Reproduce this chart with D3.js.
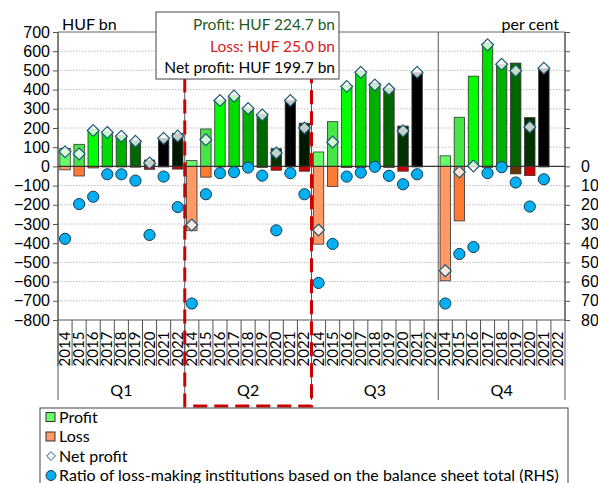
<!DOCTYPE html>
<html>
<head>
<meta charset="utf-8">
<script src="https://cdn.jsdelivr.net/npm/d3@7"></script>
<style>
  body { margin: 0; background: #fff; }
  svg { font-family: Lato, "Open Sans", sans-serif; }
  .grid line { stroke: #bdbdbd; stroke-dasharray: 1.5,1.5; }
  .axis path, .axis line { stroke: #555; }
  .axis text { font-size: 16px; fill: #000; }
</style>
</head>
<body>
<svg width="598" height="483"></svg>
<script>
(function() {

	// data (HUF bn / per cent), ordered Q1..Q4, 2014..2022
	var quarters = ["Q1", "Q2", "Q3", "Q4"]
	var years = ["2014", "2015", "2016", "2017", "2018", "2019", "2020", "2021", "2022"]

	var profit = [
		93, 115, 193, 180, 160, 135, 33, 148, 172,      // Q1
		30, 195, 346, 368, 304, 273, 92, 345, 225,      // Q2
		75, 233, 422, 494, 432, 407, 210, 490, null,    // Q3
		55, 256, 470, 640, 530, 538, 254, 511, null     // Q4
	]
	var loss = [
		-18, -50, -8, -3, -3, -4, -15, -3, -14,
		-335, -56, -3, -2, -3, -5, -20, -3, -25,
		-405, -105, -6, -5, -8, -5, -25, -3, null,
		-596, -284, -3, -5, -3, -39, -48, -3, null
	]
	var netProfit = [
		76, 65, 187, 177, 157, 131, 18, 146, 158,
		-305, 139, 343, 366, 301, 268, 70, 343, 200,
		-331, 127, 416, 490, 424, 402, 185, 490, null,
		-543, -29, 2, 633, 532, 498, 205, 511, null
	]
	var ratio = [
		37.7, 19.6, 15.8, 4.1, 4.1, 7.4, 35.7, 5.3, 21.2,
		71.4, 14.5, 3.5, 3.0, 0.6, 4.8, 33.3, 3.5, 14.5,
		60.7, 40.4, 5.3, 3.2, 0.2, 4.9, 9.3, 4.1, null,
		71.4, 45.6, 42.0, 3.5, 0.4, 8.4, 20.9, 6.7, null
	]
	var leftTicks = [700, 600, 500, 400, 300, 200, 100, 0, -100, -200, -300, -400, -500, -600, -700, -800]
	var rightTicks = [0, 10, 20, 30, 40, 50, 60, 70, 80]
	var legendLabels = ["Profit", "Loss", "Net profit", "Ratio of loss-making institutions based on the balance sheet total (RHS)"]
	var noteLines = ["Profit: HUF 224.7 bn", "Loss: HUF 25.0 bn", "Net profit: HUF 199.7 bn"]

	var profitColors = ["#66ff66", "#47e647", "#00ff00", "#00dd00", "#00b000", "#006600", "#003300", "#000000", "#001a00"]
	var lossColors = ["#ff9966", "#ff7a33", "#ff6a10", "#e05c00", "#b34700", "#663300", "#cc0000", "#800000", "#cc0000"]
	var noteColors = ["#1f5a1f", "#d42020", "#000"]

	var svg = d3.select('svg')
	var plot = { left: 58, right: 565, top: 32, bottom: 320 }

	var rows = []
	quarters.forEach(function(q, qi) {
		years.forEach(function(y, yi) {
			var i = qi * years.length + yi
			rows.push({ key: q + y, q: q, qi: qi, year: y, yi: yi,
				profit: profit[i], loss: loss[i], net: netProfit[i], ratio: ratio[i] })
		})
	})

	var x = d3.scaleBand().domain(rows.map(function(d) { return d.key })).range([plot.left, plot.right])
	var y = d3.scaleLinear().domain([-800, 700]).range([plot.bottom, plot.top])
	var yR = d3.scaleLinear().domain([80, -70]).range([plot.bottom, plot.top])
	var barW = x.step() * 0.74
	function cx(d) { return x(d.key) + x.step() / 2 }

	// gridlines
	svg.append('g').attr('class', 'grid')
		.selectAll('line').data(leftTicks.filter(function(t) { return t !== 0 && t !== 700 && t !== -800 }))
		.enter().append('line')
		.attr('x1', plot.left).attr('x2', plot.right)
		.attr('y1', function(d) { return y(d) }).attr('y2', function(d) { return y(d) })

	// frame + quarter separators
	var qEdges = quarters.map(function(q) { return x(q + years[0]) }).concat([plot.right])
	svg.append('line').attr('x1', plot.left).attr('x2', plot.right).attr('y1', plot.top).attr('y2', plot.top).attr('stroke', '#666')
	svg.selectAll('.qsep').data(qEdges).enter().append('line').attr('class', 'qsep')
		.attr('x1', function(d) { return d }).attr('x2', function(d) { return d })
		.attr('y1', plot.top).attr('y2', 400).attr('stroke', '#555')

	// profit & loss bars
	var valid = rows.filter(function(d) { return d.profit !== null })
	svg.append('g').selectAll('rect').data(valid).enter().append('rect')
		.attr('x', function(d) { return cx(d) - barW / 2 })
		.attr('width', barW)
		.attr('y', function(d) { return y(d.profit) })
		.attr('height', function(d) { return y(0) - y(d.profit) })
		.attr('fill', function(d) { return profitColors[d.yi] })
		.attr('stroke', '#333').attr('stroke-width', 0.8)
	svg.append('g').selectAll('rect').data(valid).enter().append('rect')
		.attr('x', function(d) { return cx(d) - barW / 2 })
		.attr('width', barW)
		.attr('y', y(0))
		.attr('height', function(d) { return y(d.loss) - y(0) })
		.attr('fill', function(d) { return lossColors[d.yi] })
		.attr('stroke', '#333').attr('stroke-width', 0.8)

	// zero line
	svg.append('line').attr('x1', plot.left).attr('x2', plot.right)
		.attr('y1', y(0)).attr('y2', y(0)).attr('stroke', '#333').attr('stroke-width', 1.2)

	// axes
	var axL = d3.axisLeft(y).tickValues(leftTicks).tickSize(5).tickPadding(3)
	svg.append('g').attr('class', 'axis').attr('transform', 'translate(' + plot.left + ',0)').call(axL)
		.select('.domain').remove()
	svg.append('line').attr('x1', plot.left).attr('x2', plot.left).attr('y1', plot.top).attr('y2', plot.bottom).attr('stroke', '#555')

	var rTickVals = d3.range(-70, 81, 10)
	var axR = d3.axisRight(yR).tickValues(rTickVals).tickSize(5).tickPadding(11)
		.tickFormat(function(d) { return rightTicks.indexOf(d) >= 0 ? d : '' })
	svg.append('g').attr('class', 'axis').attr('transform', 'translate(' + plot.right + ',0)').call(axR)
		.select('.domain').remove()
	svg.append('line').attr('x1', plot.right).attr('x2', plot.right).attr('y1', plot.top).attr('y2', plot.bottom).attr('stroke', '#555')

	// bottom axis: year ticks and labels
	svg.append('line').attr('x1', plot.left).attr('x2', plot.right).attr('y1', plot.bottom).attr('y2', plot.bottom).attr('stroke', '#555')
	svg.append('g').selectAll('line').data(rows).enter().append('line')
		.attr('x1', function(d) { return x(d.key) }).attr('x2', function(d) { return x(d.key) })
		.attr('y1', plot.bottom).attr('y2', 366).attr('stroke', '#555')
	svg.append('g').selectAll('text').data(rows).enter().append('text')
		.attr('transform', function(d) { return 'translate(' + (cx(d) + 5) + ',349)rotate(-90)' })
		.attr('text-anchor', 'middle')
		.style('font-size', '15px')
		.text(function(d) { return d.year })
	svg.append('g').selectAll('text').data(quarters).enter().append('text')
		.attr('x', function(d, i) { return (qEdges[i] + qEdges[i + 1]) / 2 })
		.attr('y', 396)
		.attr('text-anchor', 'middle')
		.style('font-size', '16px')
		.text(function(d) { return d })

	// net profit diamonds
	var dia = d3.symbol().type(d3.symbolDiamond2).size(90)
	svg.append('g').selectAll('path').data(valid).enter().append('path')
		.attr('d', dia)
		.attr('transform', function(d) { return 'translate(' + cx(d) + ',' + y(d.net) + ')' })
		.attr('fill', '#fff').attr('fill-opacity', 0.78)
		.attr('stroke', '#1d5c7a').attr('stroke-width', 1.2)

	// ratio dots (RHS)
	svg.append('g').selectAll('circle').data(valid).enter().append('circle')
		.attr('cx', cx).attr('cy', function(d) { return yR(d.ratio) })
		.attr('r', 5.6)
		.attr('fill', '#00b0f0').attr('stroke', '#173a55').attr('stroke-width', 1)

	// unit labels
	svg.append('text').attr('x', 62).attr('y', 29.5).style('font-size', '16px').text('HUF bn')
	svg.append('text').attr('x', 559).attr('y', 29.5).attr('text-anchor', 'end').style('font-size', '16px').text('per cent')

	// highlighted Q2 box
	var q2L = qEdges[1], q2R = qEdges[2]
	svg.append('rect').attr('x', q2L).attr('y', 70).attr('width', q2R - q2L).attr('height', 406 - 70)
		.attr('fill', 'none').attr('stroke', '#cc0000').attr('stroke-width', 3).attr('stroke-dasharray', '14,7')

	// note box
	var note = svg.append('g')
	note.append('rect').attr('x', 156).attr('y', 12).attr('width', 183).attr('height', 67)
		.attr('fill', '#fff').attr('stroke', '#444').attr('stroke-width', 1)
	note.selectAll('text').data(noteLines).enter().append('text')
		.attr('x', 335).attr('y', function(d, i) { return 30 + i * 21.5 })
		.attr('text-anchor', 'end')
		.style('font-size', '15.5px')
		.attr('fill', function(d, i) { return noteColors[i] })
		.text(function(d) { return d })

	// legend
	var lg = svg.append('g')
	lg.append('rect').attr('x', 40).attr('y', 408).attr('width', 528).attr('height', 90)
		.attr('fill', '#fff').attr('stroke', '#444')
	var items = lg.selectAll('g').data(legendLabels).enter().append('g')
		.attr('transform', function(d, i) { return 'translate(51,' + (417 + i * 19.5) + ')' })
	items.append('text').attr('x', 8).attr('y', 5.5).style('font-size', '16px').text(function(d) { return d })
	items.filter(function(d, i) { return i < 2 }).append('rect')
		.attr('x', -5).attr('y', -4.5).attr('width', 9).attr('height', 9)
		.attr('fill', function(d, i) { return i === 0 ? profitColors[0] : lossColors[0] })
		.attr('stroke', '#333')
	items.filter(function(d, i) { return i === 2 }).append('path')
		.attr('d', d3.symbol().type(d3.symbolDiamond2).size(50))
		.attr('fill', '#fff').attr('stroke', '#1d5c7a')
	items.filter(function(d, i) { return i === 3 }).append('circle')
		.attr('r', 5).attr('fill', '#00b0f0').attr('stroke', '#173a55')

})()
</script>
</body>
</html>
